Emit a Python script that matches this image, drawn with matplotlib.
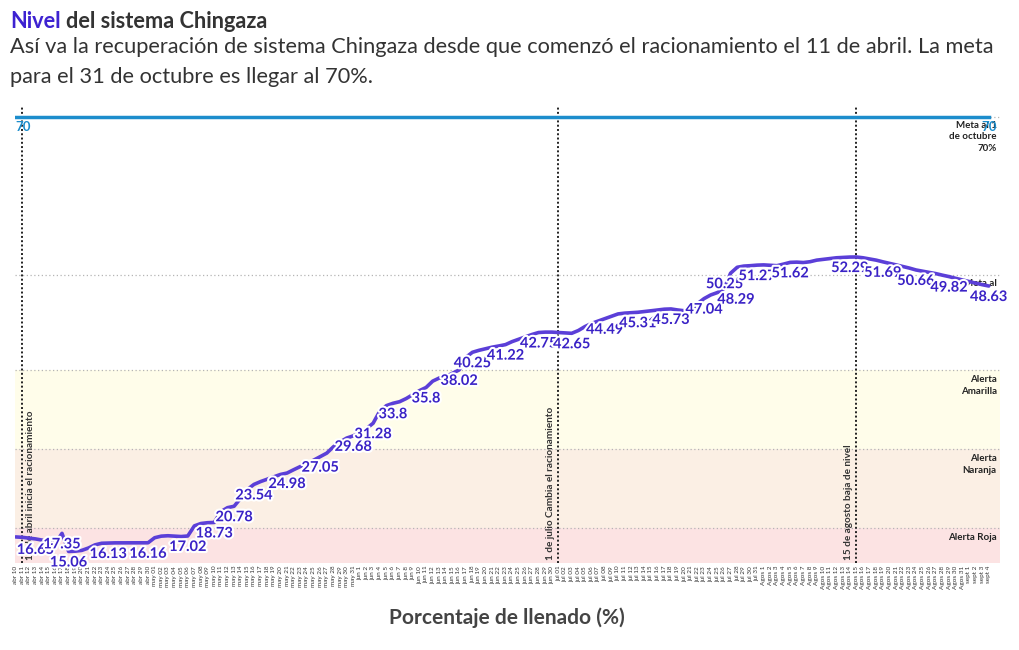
import matplotlib
matplotlib.use("Agg")
import matplotlib.pyplot as plt
import matplotlib.patheffects as pe
import numpy as np

plt.rcParams['font.family'] = ['Lato', 'DejaVu Sans']

# Fechas (una por dia, abr 10 -> sept 4)
months = [("abr", 10, 30, False), ("may", 1, 31, True), ("jun", 1, 30, False),
          ("jul", 1, 31, True), ("Agos", 1, 31, False), ("sept", 1, 4, False)]
date_labels = []
for name, d0, d1, zero in months:
    for d in range(d0, d1 + 1):
        date_labels.append(f"{name} {d:02d}" if zero else f"{name} {d}")

# Nivel del sistema Chingaza (%)
nivel = [16.9, 16.85, 16.75, 16.65, 16.5, 16.2, 16.1, 17.35, 15.06, 15.1,
         15.2, 15.5, 15.9, 16.1, 16.13, 16.15, 16.15, 16.15, 16.16, 16.16,
         16.16, 16.8, 17.0, 17.05, 17.0, 16.95, 17.02, 18.3, 18.6, 18.7,
         18.73, 20.1, 20.6, 20.78, 21.8, 22.9, 23.54, 23.9, 24.2, 24.5,
         24.8, 24.98, 25.4, 25.8, 26.2, 26.6, 27.05, 27.5, 28.3, 28.9,
         29.4, 29.68, 30.1, 30.6, 31.28, 32.8, 33.5, 33.8, 34.0, 34.4,
         34.9, 35.4, 35.8, 36.6, 37.0, 37.2, 37.6, 38.02, 39.6, 40.25,
         40.5, 40.7, 40.9, 41.05, 41.22, 41.6, 41.9, 42.2, 42.5, 42.75,
         42.8, 42.8, 42.75, 42.7, 42.65, 43.0, 43.5, 43.9, 44.2, 44.49,
         44.8, 45.1, 45.2, 45.25, 45.31, 45.4, 45.5, 45.6, 45.7, 45.73,
         45.6, 45.5, 45.6, 46.4, 47.04, 47.5, 47.8, 48.29, 50.25, 51.0,
         51.15, 51.2, 51.27, 51.3, 51.25, 51.2, 51.4, 51.62, 51.65, 51.6,
         51.7, 51.9, 52.0, 52.1, 52.2, 52.25, 52.29, 52.3, 52.2, 52.05,
         51.9, 51.69, 51.5, 51.3, 51.1, 50.9, 50.66, 50.5, 50.35, 50.2,
         50.0, 49.82, 49.6, 49.4, 49.2, 49.0, 48.8, 48.63]

# dias con etiqueta de valor
label_days = [3, 7, 8, 14, 20, 26, 30, 33, 36, 41, 46, 51, 54, 57, 62, 67, 69,
              74, 79, 84, 89, 94, 99, 104, 107, 108, 112, 117, 126, 131, 136,
              141, 147]

meta = 70
umbrales = {"amarilla": 38, "naranja": 28, "roja": 18}

eventos = [(1, "11 de abril inicia el racionamiento", "left"),
           (82, "1 de julio Cambia el racionamiento", "right"),
           (127, "15 de agosto baja de nivel", "right")]

x = np.arange(len(nivel))

fig = plt.figure(figsize=(10.2, 6.5), dpi=100)
ax = fig.add_axes([0.0147, 0.1338, 0.9657, 0.7015])
ymin, ymax = 13.6, 71.26
ax.set_ylim(ymin, ymax)
ax.set_xlim(-0.1, 148.7)

# bandas de alerta
ax.axhspan(ymin, umbrales["roja"], color="#fce3e3", lw=0, zorder=0)
ax.axhspan(umbrales["roja"], umbrales["naranja"], color="#fbefe4", lw=0, zorder=0)
ax.axhspan(umbrales["naranja"], umbrales["amarilla"], color="#fffdea", lw=0, zorder=0)
for yv in [umbrales["roja"], umbrales["naranja"], umbrales["amarilla"], 50, meta]:
    ax.axhline(yv, color="#b5b5b5", lw=0.9, ls=(0, (1, 2)), zorder=1)

# linea de meta
ax.plot([x[0], x[-1]], [meta, meta], color="#1c8dcc", lw=2.5, zorder=3)
for xi, dx in [(x[0], 7), (x[-1], 0)]:
    ax.annotate("70", (xi, meta), xytext=(dx, -10), textcoords="offset pixels",
                ha="center", va="center", color="#1c8dcc", fontsize=9.5,
                fontweight="bold", zorder=6)

# eventos
for xi, txt, side in eventos:
    ax.axvline(xi, color="#222222", lw=1.4, ls=(0, (1, 1.2)), zorder=2)
    ax.annotate(txt, (xi, ymin), xytext=(8 if side == "left" else -8, 3),
                textcoords="offset pixels", rotation=90, ha="center", va="bottom",
                fontsize=7.2, fontweight="bold", color="#333333", zorder=2)

# textos a la derecha
right_txt = dict(ha="right", fontsize=7, fontweight="bold", color="#222222",
                 linespacing=1.35, zorder=2)
ax.annotate("Meta al 1\nde octubre\n70%", (148.2, meta), xytext=(0, -4),
            textcoords="offset pixels", va="top", **right_txt)
ax.annotate("Meta al", (148.2, 50), xytext=(0, -4),
            textcoords="offset pixels", va="top", **right_txt)
ax.annotate("Alerta\nAmarilla", (148.2, umbrales["amarilla"]), xytext=(0, -5),
            textcoords="offset pixels", va="top", **right_txt)
ax.annotate("Alerta\nNaranja", (148.2, umbrales["naranja"]), xytext=(0, -5),
            textcoords="offset pixels", va="top", **right_txt)
ax.annotate("Alerta Roja", (148.2, umbrales["roja"]), xytext=(0, -5),
            textcoords="offset pixels", va="top", **right_txt)

# serie principal
ax.plot(x, nivel, color="#5b3fd8", lw=2.6, zorder=4, solid_capstyle="round",
        solid_joinstyle="round")

label_dx = {107: 12, 108: -6}
for d in label_days:
    ax.annotate(f"{nivel[d]:g}", (d, nivel[d]), xytext=(label_dx.get(d, 0), -11),
                textcoords="offset pixels", ha="center", va="center",
                fontsize=10.5, fontweight="bold", color="#3a22c6", zorder=5,
                path_effects=[pe.withStroke(linewidth=3, foreground="white")])

ax.set_xticks(x)
ax.set_xticklabels(date_labels, rotation=90, fontsize=4.6, color="#333333")
ax.tick_params(axis="x", length=0, pad=2)
ax.set_yticks([])
for s in ax.spines.values():
    s.set_visible(False)

# titulos
t1 = fig.text(10 / 1020, 1 - 22 / 650, "Nivel", fontsize=15.7, fontweight="bold",
              color="#3d22d1", va="center", ha="left")
fig.canvas.draw()
bb = t1.get_window_extent()
fig.text((bb.x1 + 5) / 1020, 1 - 22 / 650, "del sistema Chingaza", fontsize=15.7,
         fontweight="bold", color="#333333", va="center", ha="left")
fig.text(10 / 1020, 1 - 47 / 650,
         "Así va la recuperación de sistema Chingaza desde que comenzó el racionamiento el 11 de abril. La meta",
         fontsize=15.7, color="#333333", va="center", ha="left")
fig.text(10 / 1020, 1 - 77 / 650, "para el 31 de octubre es llegar al 70%.",
         fontsize=15.7, color="#333333", va="center", ha="left")
fig.text(507 / 1020, 1 - 618 / 650, "Porcentaje de llenado (%)", fontsize=15,
         fontweight="bold", color="#444444", va="center", ha="center")

fig.savefig("out.png", dpi=100)
